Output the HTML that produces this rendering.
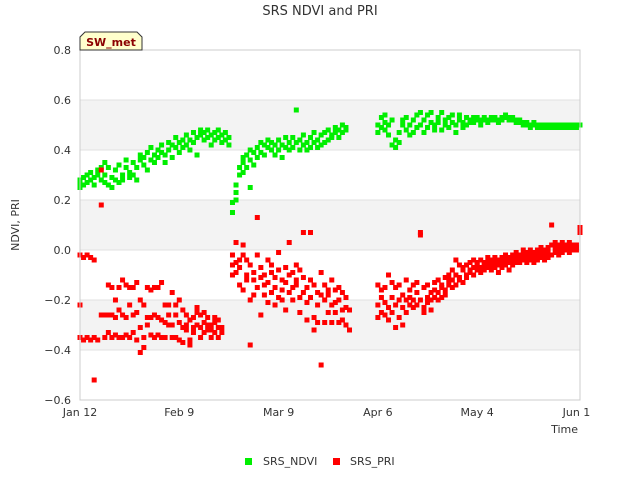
<!DOCTYPE html>
<html><head><meta charset="utf-8"><style>
body{margin:0;background:#fff;font-family:"DejaVu Sans","Liberation Sans",sans-serif;}
svg text{font-family:"DejaVu Sans","Liberation Sans",sans-serif;}
</style></head><body>
<svg id="c" width="640" height="480" xmlns="http://www.w3.org/2000/svg">
<text x="320" y="15" text-anchor="middle" font-size="13" fill="#333">SRS NDVI and PRI</text>
<g id="bands"></g>
<g id="grid"></g>
<g id="plot"></g>
<rect x="80" y="50" width="500" height="350" fill="none" stroke="#ccc"/>
<g id="axes"></g>
<text x="19" y="225" text-anchor="middle" font-size="11" fill="#333" transform="rotate(-90 19 225)">NDVI, PRI</text>
<text x="578" y="433" text-anchor="end" font-size="11" fill="#333">Time</text>
<g>
<polygon points="80,50 80,37 85,32 137,32 142,37 142,50" fill="#ffffcc" stroke="#333" stroke-width="1"/>
<text x="111" y="46" text-anchor="middle" font-size="11" font-weight="bold" fill="#8b0000">SW_met</text>
</g>
<g>
<rect x="245" y="458" width="7" height="7" fill="#00ee00"/>
<text x="263" y="465" font-size="11" fill="#333">SRS_NDVI</text>
<rect x="333" y="458" width="7" height="7" fill="#ff0000"/>
<text x="350" y="465" font-size="11" fill="#333">SRS_PRI</text>
</g>
</svg>
<script>
const yTicks=[0.8,0.6,0.4,0.2,0.0,-0.2,-0.4,-0.6];
const yTickLabels=["0.8","0.6","0.4","0.2","0.0","\u22120.2","\u22120.4","\u22120.6"];
const xTickDays=[0,28,56,84,112,140];
const xTickLabels=["Jan 12","Feb 9","Mar 9","Apr 6","May 4","Jun 1"];
const ndviByDay=[[0,[.27,.25,.28]],[1,[.29,.26]],[2,[.3,.27]],[3,[.28,.31]],[4,[.29,.26]],[5,[.3,.32]],[6,[.28,.33]],[7,[.35,.3,.27]],[8,[.26,.33]],[9,[.29,.25]],[10,[.32,.28]],[11,[.27,.34]],[12,[.3,.28]],[13,[.33,.36]],[14,[.31,.29]],[15,[.35,.3]],[16,[.28,.33]],[17,[.38,.36]],[18,[.34,.37]],[19,[.32,.39]],[20,[.36,.41]],[21,[.38,.35]],[22,[.4,.37]],[23,[.42,.39]],[24,[.38,.35]],[25,[.4,.43]],[26,[.37,.42]],[27,[.45,.41]],[28,[.39,.43]],[29,[.44,.41]],[30,[.46,.42]],[31,[.4,.44]],[32,[.47,.43]],[33,[.45,.38]],[34,[.46,.48]],[35,[.44,.47]],[36,[.48,.45]],[37,[.46,.42]],[38,[.47,.44]],[39,[.45,.48]],[40,[.46,.43]],[41,[.44,.47]],[42,[.42,.45]],
[43,[.15,.19]],[44,[.2,.23,.26]],[45,[.3,.33]],[46,[.35,.31,.37]],[47,[.33,.38]],[48,[.36,.4,.25]],[49,[.39,.34]],[50,[.41,.37]],[51,[.43,.39]],[52,[.38,.42]],[53,[.41,.44]],[54,[.4,.43]],[55,[.38,.42]],[56,[.44,.4]],[57,[.42,.37]],[58,[.45,.41]],[59,[.43,.4]],[60,[.41,.45]],[61,[.56,.43]],[62,[.44,.4]],[63,[.42,.46]],[64,[.4,.43]],[65,[.45,.41]],[66,[.43,.47]],[67,[.41,.44]],[68,[.46,.42]],[69,[.47,.43]],[70,[.44,.48]],[71,[.46,.45]],[72,[.49,.47]],[73,[.48,.45]],[74,[.47,.5]],[75,[.49,.48]],
[84,[.47,.5]],[85,[.53,.49]],[86,[.51,.48,.54]],[87,[.5,.46]],[88,[.52,.42]],[89,[.41,.44]],[90,[.43,.47]],[91,[.52,.5]],[92,[.48,.53]],[93,[.5,.46]],[94,[.52,.47]],[95,[.49,.54]],[96,[.55,.5]],[97,[.47,.52]],[98,[.54,.49]],[99,[.51,.55]],[100,[.5,.48]],[101,[.53,.51]],[102,[.48,.55]],[103,[.52,.5]],[104,[.49,.53]],[105,[.51,.54]],[106,[.5,.47]],[107,[.52,.54]],[108,[.51,.49]],[109,[.53,.5]],[110,[.52,.51]],[111,[.51,.53]],[112,[.52,.53]],[113,[.5,.52]],[114,[.53,.52]],[115,[.52,.51]],[116,[.52,.53]],[117,[.53,.52]],[118,[.52,.51]],[119,[.53,.52]],[120,[.54,.53]],[121,[.53,.52]],[122,[.52,.53]],[123,[.52,.51]],[124,[.51,.52]],[125,[.51,.5]],[126,[.5,.51]],[127,[.5,.49]],[128,[.5,.51]],[129,[.5,.49]],[130,[.49,.5]],[131,[.5,.49]],[132,[.5,.49]],[133,[.49,.5]],[134,[.49,.5]],[135,[.5,.49]],[136,[.5,.49]],[137,[.49,.5]],[138,[.5,.49]],[139,[.5,.49]],[140,[.5,.49]],[141,[.5,.5]]];
const priByDay=[[0,[-.02,-.35,-.22]],[1,[-.03,-.36]],[2,[-.02,-.35]],[3,[-.03,-.36]],[4,[-.52,-.04,-.35]],[5,[-.36]],[6,[.32,.18,-.26]],[7,[-.35,-.26]],[8,[-.14,-.33,-.26]],[9,[-.15,-.26,-.35]],[10,[-.2,-.27,-.34]],[11,[-.35,-.24,-.15]],[12,[-.26,-.12,-.35]],[13,[-.14,-.27,-.34]],[14,[-.15,-.35,-.22]],[15,[-.26,-.15,-.33]],[16,[-.13,-.25,-.36]],[17,[-.41,-.2,-.31]],[18,[-.35,-.39,-.22]],[19,[-.15,-.27,-.3]],[20,[-.16,-.27,-.34]],[21,[-.35,-.15,-.26]],[22,[-.27,-.34,-.15]],[23,[-.13,-.28,-.35]],[24,[-.22,-.29,-.35]],[25,[-.22,-.26,-.3]],[26,[-.17,-.3,-.35]],[27,[-.22,-.35,-.26]],[28,[-.2,-.29,-.36]],[29,[-.24,-.31,-.37]],[30,[-.26,-.32,-.3]],[31,[-.38,-.36,-.28]],[32,[-.27,-.33,-.31]],[33,[-.25,-.3,-.23]],[34,[-.31,-.26,-.35]],[35,[-.29,-.33,-.25]],[36,[-.27,-.32,-.3]],[37,[-.32,-.3,-.35]],[38,[-.29,-.33,-.27]],[39,[-.35,-.31,-.28]],[40,[-.31,-.33]],
[43,[-.06,-.1,-.02]],[44,[.03,-.05,-.09]],[45,[-.14,-.04,-.07]],[46,[-.02,.02,-.16]],[47,[-.1,-.04,-.12]],[48,[-.2,-.06,-.38]],[49,[-.09,-.18,-.12]],[50,[.13,-.02,-.15]],[51,[-.26,-.11,-.07]],[52,[-.1,-.18,-.14]],[53,[-.04,-.13,-.21]],[54,[-.09,-.17,-.06]],[55,[-.15,-.22,-.11]],[56,[-.01,-.19,-.08]],[57,[-.12,-.16,-.2]],[58,[-.07,-.13,-.24]],[59,[.03,-.1,-.17]],[60,[-.09,-.15,-.2]],[61,[-.06,-.14,-.12]],[62,[-.19,-.08,-.25]],[63,[.07,-.11,-.17]],[64,[-.15,-.21,-.28]],[65,[-.12,.07,-.19]],[66,[-.32,-.14,-.27]],[67,[-.17,-.22,-.29]],[68,[-.46,-.09,-.18]],[69,[-.14,-.29,-.2]],[70,[-.18,-.25,-.16]],[71,[-.12,-.22,-.29]],[72,[-.21,-.16,-.25]],[73,[-.2,-.29,-.15]],[74,[-.17,-.24,-.28]],[75,[-.23,-.3,-.19]],[76,[-.24,-.32]],
[84,[-.14,-.22,-.27]],[85,[-.16,-.25,-.19]],[86,[-.26,-.15,-.21]],[87,[-.1,-.23,-.28]],[88,[-.19,-.13,-.25]],[89,[-.15,-.22,-.31]],[90,[-.2,-.14,-.27]],[91,[-.23,-.3,-.18]],[92,[-.12,-.2,-.25]],[93,[-.16,-.22,-.19]],[94,[-.14,-.2,-.23]],[95,[-.17,-.22,-.13]],[96,[.06,.07,-.2]],[97,[-.15,-.23,-.25]],[98,[-.14,-.19,-.21]],[99,[-.2,-.17,-.24]],[100,[-.13,-.19,-.16]],[101,[-.12,-.17,-.2]],[102,[-.14,-.19,-.15]],[103,[-.11,-.16,-.18]],[104,[-.1,-.14,-.12]],[105,[-.08,-.12,-.15]],[106,[-.04,-.1,-.14]],[107,[-.06,-.11,-.12]],[108,[-.08,-.07,-.13]],[109,[-.06,-.1,-.11]],[110,[-.05,-.09,-.08]],[111,[-.07,-.04,-.1]],[112,[-.05,-.08,-.06]],[113,[-.04,-.09,-.07]],[114,[-.06,-.05,-.08]],[115,[-.03,-.07,-.05]],[116,[-.06,-.04,-.08]],[117,[-.05,-.03,-.07]],[118,[-.04,-.06,-.09]],[119,[-.03,-.05,-.07]],[120,[-.04,-.06,-.02]],[121,[-.03,-.05,-.08]],[122,[-.02,-.04,-.06]],[123,[-.01,-.05,-.03]],[124,[-.03,-.05,-.02]],[125,[-.02,-.04,0]],[126,[-.03,-.01,-.05]],[127,[-.02,-.04,0]],[128,[-.01,-.03,-.05]],[129,[0,-.02,-.04]],[130,[-.01,-.03,.01]],[131,[-.02,0,-.04]],[132,[.01,-.01,-.03]],[133,[.1,-.02,.02]],[134,[.03,-.01,.01]],[135,[0,.02,-.02]],[136,[.01,.03,-.01]],[137,[.02,0,.02]],[138,[.01,.03,-.01]],[139,[.02,0,.01]],[140,[.01,.02,0]],[141,[.08,.07,.09]]];

const NS="http://www.w3.org/2000/svg";
const X0=80,X1=580,Y0=400,Y1=50,DMAX=141,VMIN=-0.6,VMAX=0.8;
function xs(d){return X0+(d/DMAX)*(X1-X0);}
function ys(v){return Y0-(v-VMIN)/(VMAX-VMIN)*(Y0-Y1);}
function mk(tag,at,parent){const e=document.createElementNS(NS,tag);for(const k in at)e.setAttribute(k,at[k]);parent.appendChild(e);return e;}
const bands=document.getElementById('bands'),grid=document.getElementById('grid'),plot=document.getElementById('plot'),axes=document.getElementById('axes');
for(let i=0;i<yTicks.length-1;i++){
  if(i%2===1){
    const r=mk('rect',{x:X0,y:ys(yTicks[i]),width:X1-X0,height:ys(yTicks[i+1])-ys(yTicks[i]),fill:'#f3f3f3'},bands);
    
    
  }
}
yTicks.forEach((v,i)=>{
  const l=mk('line',{x1:X0,x2:X1,y1:ys(v),y2:ys(v),stroke:'#e0e0e0'},grid);
  
  
  const t=mk('text',{x:X0-9,y:ys(v)+4,'text-anchor':'end','font-size':'11',fill:'#333'},axes);
  t.textContent=yTickLabels[i];
  
  
});
xTickDays.forEach((d,i)=>{
  const t=mk('text',{x:xs(d),y:Y0+16,'text-anchor':'middle','font-size':'11',fill:'#333'},axes);
  t.textContent=xTickLabels[i];
  
  
});
function drawSeries(data,color,name){
  data.forEach(([d,vals])=>{
    vals.forEach(v=>{
      const r=mk('rect',{x:xs(d)-2.5,y:ys(v)-2.5,width:5,height:5,fill:color},plot);
      
      
    });
  });
}
drawSeries(ndviByDay,'#00ee00','ndvi-point');
drawSeries(priByDay,'#ff0000','pri-point');
</script>
</body></html>
